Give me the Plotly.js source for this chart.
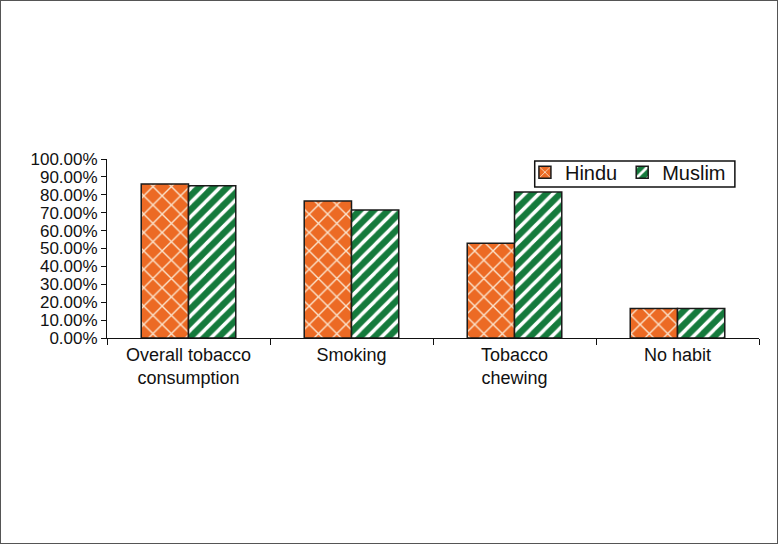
<!DOCTYPE html>
<html><head><meta charset="utf-8">
<script src="https://cdn.plot.ly/plotly-3.0.1.min.js"></script>
<style>html,body{margin:0;padding:0;background:#fff}#chart{width:776px;height:542px;border:1px solid #555}</style>
</head><body><div id="chart"></div>
<script>
const categories = ["Overall tobacco<br>consumption", "Smoking", "Tobacco<br>chewing", "No habit"];
const hindu = [0.86, 0.765, 0.53, 0.165];
const muslim = [0.85, 0.715, 0.815, 0.165];
const tickVals = [0,0.1,0.2,0.3,0.4,0.5,0.6,0.7,0.8,0.9,1.0];

const traces = [
  {type:"bar", name:"Hindu", x:categories, y:hindu,
   marker:{color:"#EC6A24", line:{color:"#1a1a1a", width:1.5},
     pattern:{shape:"x", fgcolor:"#FBE3CC", bgcolor:"#EC6A24", size:13, solidity:0.2}}},
  {type:"bar", name:"Muslim", x:categories, y:muslim,
   marker:{color:"#157A3C", line:{color:"#1a1a1a", width:1.5},
     pattern:{shape:"/", fgcolor:"#ffffff", bgcolor:"#157A3C", size:10, solidity:0.35}}}
];
const layout = {
  width:776, height:542,
  margin:{l:106, r:18, t:158, b:205},
  paper_bgcolor:"#fff", plot_bgcolor:"#fff",
  font:{family:"Liberation Sans, Arial, sans-serif", color:"#111"},
  barmode:"group", bargap:0.42, bargroupgap:0,
  showlegend:true,
  legend:{x:0.641, y:1.035, xanchor:"left", yanchor:"top", orientation:"h",
    borderwidth:0, bgcolor:"rgba(0,0,0,0)", font:{size:20}, traceorder:"normal"},
  shapes:[{type:"rect", xref:"paper", yref:"paper", x0:0.656, x1:0.963, y0:0.844, y1:0.989,
    line:{color:"#111", width:1.5}, fillcolor:"rgba(0,0,0,0)", layer:"above"}],
  xaxis:{type:"category", showline:true, linecolor:"#111", linewidth:1, ticks:"outside",
    tickson:"boundaries", ticklen:6, tickcolor:"#111", tickfont:{size:18}, showgrid:false},
  yaxis:{range:[0,1], tickvals:tickVals, tickformat:".2%", showline:true, linecolor:"#111",
    linewidth:1, ticks:"outside", ticklen:5, tickcolor:"#111", tickfont:{size:17},
    showgrid:false, zeroline:false}
};
Plotly.newPlot("chart", traces, layout, {displayModeBar:false});
</script></body></html>
